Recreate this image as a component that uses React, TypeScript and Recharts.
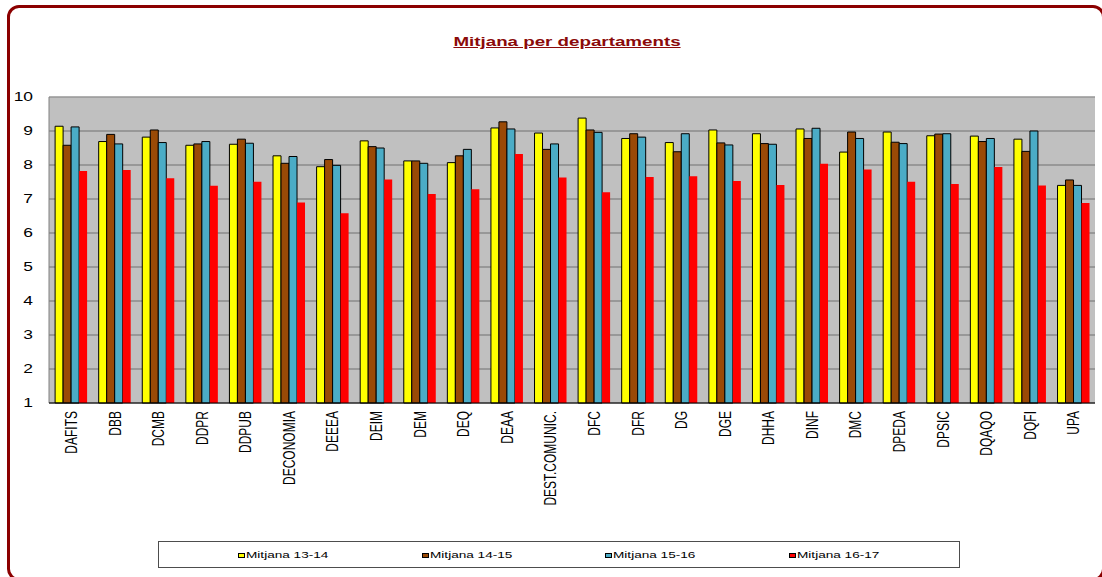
import React from 'react';
import { BarChart, Bar, XAxis, YAxis, CartesianGrid, ReferenceLine } from 'recharts';

const departments = [
  'DAFITS', 'DBB', 'DCMB', 'DDPR', 'DDPUB', 'DECONOMIA', 'DEEEA', 'DEIM', 'DEM', 'DEQ', 'DEAA',
  'DEST.COMUNIC.', 'DFC', 'DFR', 'DG', 'DGE', 'DHHA', 'DINF', 'DMC', 'DPEDA', 'DPSIC', 'DQAQO', 'DQFI', 'UPA',
];
const mitjana1314 = [9.14, 8.69, 8.82, 8.58, 8.61, 8.27, 7.95, 8.71, 8.12, 8.07, 9.09, 8.94, 9.38, 8.78, 8.66, 9.03, 8.92, 9.06, 8.38, 8.97, 8.86, 8.85, 8.76, 7.40];
const mitjana1415 = [8.58, 8.90, 9.03, 8.62, 8.76, 8.05, 8.16, 8.54, 8.12, 8.27, 9.27, 8.46, 9.03, 8.92, 8.39, 8.65, 8.63, 8.78, 8.97, 8.67, 8.91, 8.69, 8.40, 7.56];
const mitjana1516 = [9.12, 8.62, 8.66, 8.69, 8.64, 8.25, 7.99, 8.50, 8.05, 8.46, 9.06, 8.62, 8.96, 8.82, 8.92, 8.59, 8.61, 9.08, 8.78, 8.63, 8.92, 8.78, 9.00, 7.40];
const mitjana1617 = [7.82, 7.85, 7.61, 7.39, 7.51, 6.90, 6.58, 7.57, 7.15, 7.29, 8.32, 7.63, 7.20, 7.65, 7.67, 7.53, 7.41, 8.04, 7.87, 7.51, 7.44, 7.94, 7.40, 6.88];

const seriesKeys = ['m1314', 'm1415', 'm1516', 'm1617'];
const seriesNames = ['Mitjana 13-14', 'Mitjana 14-15', 'Mitjana 15-16', 'Mitjana 16-17'];
const seriesColors = ['#FFFF00', '#9A4A06', '#4BACC6', '#FF0000'];
const seriesStrokes = ['#000000', '#000000', '#000000', 'none'];
const yTicks = [1, 2, 3, 4, 5, 6, 7, 8, 9, 10];
const titleText = 'Mitjana per departaments';

const seriesValues = [mitjana1314, mitjana1415, mitjana1516, mitjana1617];
const data = departments.map((dept, i) => {
  const row: Record<string, any> = { dept };
  seriesKeys.forEach((k, s) => {
    row[k] = seriesValues[s][i];
  });
  return row;
});
const boundaryTicks = Array.from({ length: departments.length + 1 }, (_, i) => i);

const FONT = "Arial, 'Liberation Sans', sans-serif";

const YTick = (props: any) => {
  const { x, y, payload } = props;
  return (
    <text
      transform={`translate(${x},${y}) scale(1.45,1)`}
      textAnchor="end"
      dy="0.36em"
      fontSize={12}
      fontFamily={FONT}
      fill="#000"
    >
      {payload.value}
    </text>
  );
};

const DeptTick = (props: any) => {
  const { x, y, payload } = props;
  return (
    <text
      transform={`translate(${x + 6.2},${y}) scale(1.43,1) rotate(-90)`}
      textAnchor="end"
      fontSize={12}
      fontFamily={FONT}
      fill="#000"
    >
      {payload.value}
    </text>
  );
};

export default function App() {
  return (
    <div
      style={{
        position: 'absolute',
        left: 0,
        top: 0,
        width: 1102,
        height: 577,
        overflow: 'hidden',
        background: '#fff',
        fontFamily: FONT,
      }}
    >
      <div
        style={{
          position: 'absolute',
          left: 7,
          top: 5,
          width: 1098,
          height: 576,
          border: '3px solid #8B0000',
          borderRadius: 12,
          boxSizing: 'border-box',
        }}
      />
      <div
        style={{
          position: 'absolute',
          left: 567,
          top: 35,
          transform: 'translateX(-50%) scaleX(1.5)',
          fontSize: 12.5,
          lineHeight: '14px',
          fontWeight: 'bold',
          color: '#8B0A0A',
          textDecoration: 'underline',
          whiteSpace: 'nowrap',
        }}
      >
        {titleText}
      </div>
      <div style={{ position: 'absolute', left: 0, top: 0 }}>
        <BarChart
          width={1102}
          height={577}
          data={data}
          margin={{ top: 97, right: 7, left: 9, bottom: 44 }}
          barCategoryGap="14%"
          barGap={0}
        >
          <CartesianGrid vertical={false} fill="#C0C0C0" stroke="#707070" strokeOpacity={1} />
          <XAxis xAxisId="b" type="number" domain={[0, 24]} ticks={boundaryTicks} height={1} axisLine={false} tick={false} tickLine={{ stroke: '#000' }} tickSize={4} />
          <XAxis
            dataKey="dept"
            interval={0}
            height={129}
            axisLine={{ stroke: '#000' }}
            tickLine={false}
            tick={<DeptTick />}
          />
          <YAxis
            domain={[1, 10]}
            ticks={yTicks}
            width={40}
            axisLine={false}
            tickLine={false}
            tickSize={6}
            tickMargin={10}
            tick={<YTick />}
          />
          <ReferenceLine y={10} stroke="#A8A8A8" />
          <ReferenceLine xAxisId="b" x={0} stroke="#808080" />
          <ReferenceLine xAxisId="b" x={24} stroke="#6A6A6A" strokeWidth={2} />
          {seriesKeys.map((k, s) => (
            <Bar
              key={k}
              dataKey={k}
              name={seriesNames[s]}
              fill={seriesColors[s]}
              stroke={seriesStrokes[s]}
              strokeWidth={1}
              isAnimationActive={false}
            />
          ))}
        </BarChart>
      </div>
      <div
        style={{
          position: 'absolute',
          left: 158,
          top: 541,
          width: 802,
          height: 27,
          border: '1px solid #4d4d4d',
          boxSizing: 'border-box',
          background: '#fff',
        }}
      >
        {seriesNames.map((name, s) => (
          <div key={name} style={{ position: 'absolute', left: 79 + s * 183.5, top: 0, height: '100%' }}>
            <div
              style={{
                position: 'absolute',
                left: 0,
                top: 11,
                width: 7,
                height: 5,
                background: seriesColors[s],
                border: '1px solid #000',
                boxSizing: 'border-box',
              }}
            />
            <div
              style={{
                position: 'absolute',
                left: 8,
                top: 8,
                fontSize: 8.5,
                lineHeight: '10px',
                whiteSpace: 'nowrap',
                transform: 'scaleX(1.6)',
                transformOrigin: 'left center',
                color: '#000',
              }}
            >
              {name}
            </div>
          </div>
        ))}
      </div>
    </div>
  );
}
